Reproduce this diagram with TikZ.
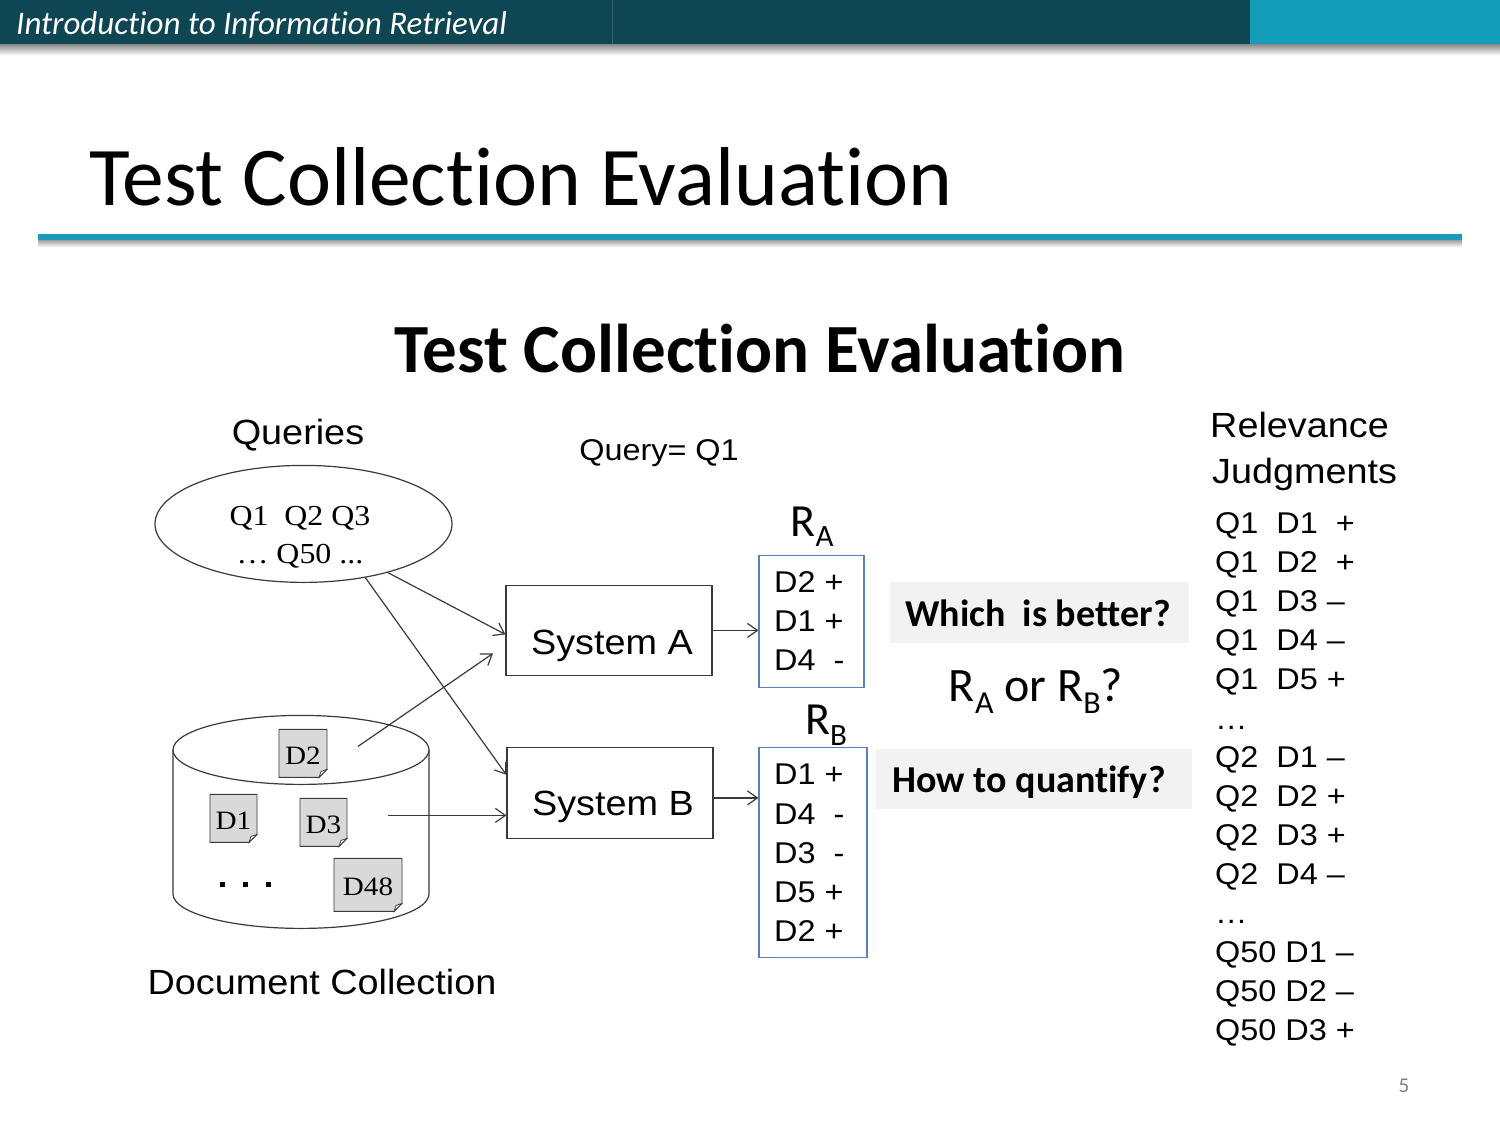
\documentclass[tikz,border=0pt]{standalone}
\usepackage{fontspec}
\setmainfont{Liberation Sans}
\newfontfamily\arialw[FakeStretch=1.08]{Liberation Sans}
\newfontfamily\timesw[FakeStretch=1.1]{Liberation Serif}
\newfontfamily\calib[Ligatures=NoCommon]{Carlito}
\usetikzlibrary{arrows.meta,shapes.geometric,calc}
\definecolor{hdark}{HTML}{0E4654}
\definecolor{hlight}{HTML}{139BBA}
\definecolor{rulec}{HTML}{1B9BB8}
\definecolor{boxblue}{HTML}{5B82B8}
\definecolor{lgrey}{HTML}{F2F2F2}
\definecolor{docgrey}{HTML}{D9D9D9}
\definecolor{linec}{HTML}{3A3A3A}
\newcommand{\mydoc}[6]{%
  \filldraw[fill=docgrey, draw=linec, line width=0.9pt]
    (#2,#3) -- (#4,#3) -- (#4,#5-8) -- (#4-8,#5) -- (#2,#5) -- cycle;
  \filldraw[fill=white!70!docgrey, draw=linec, line width=0.7pt]
    (#4-8,#5) -- (#4,#5-8) -- (#4-6,#5-6) -- cycle;
  \node[doclabel] (#1) at ({(#2+#4)/2},{(#3+#5)/2+2}) {#6};
}
\begin{document}
\begin{tikzpicture}[x=1pt,y=-1pt,
  lbl/.style={inner sep=0pt, anchor=base, font=\arialw\fontsize{35}{40}\selectfont},
  row/.style={inner sep=0pt, anchor=base west, font=\arialw\fontsize{30}{34}\selectfont},
  sysbox/.style={draw=linec, line width=1.2pt, minimum width=206pt, minimum height=90pt, inner sep=0pt},
  resbox/.style={draw=boxblue, line width=1.1pt, inner sep=0pt},
  qbox/.style={fill=lgrey, inner sep=0pt},
  boldtxt/.style={inner sep=0pt, anchor=base, font=\calib\bfseries\fontsize{38}{40}\selectfont},
  rlbl/.style={inner sep=0pt, anchor=base, font=\calib\fontsize{46}{48}\selectfont},
  doclabel/.style={inner sep=0pt, font=\timesw\fontsize{26.5}{28}\selectfont},
  qtxt/.style={inner sep=0pt, anchor=base, font=\timesw\fontsize{29}{32}\selectfont},
  arr/.style={draw=linec, line width=1.2pt, -{Straight Barb[length=10pt,width=14pt]}},
  cyl/.style={draw=linec, line width=1.2pt}
]
% background / bounding box
\fill[white] (0,0) rectangle (1500,1125);

% header bar
\shade[top color=black!45, bottom color=white] (0,44) rectangle (1500,55);
\fill[hdark] (0,0) rectangle (1250,44);
\fill[hlight] (1250,0) rectangle (1500,44);
\draw[hdark!85!white, line width=0.8pt] (612,0) -- (612,44);
\node[anchor=base west, inner sep=0pt, text=white, font=\calib\itshape\fontsize{33}{36}\selectfont] (hdr) at (16,34) {Introduction to Information Retrieval};

% slide title and rule
\node[anchor=base west, inner sep=0pt, font=\calib\fontsize{83.5}{90}\selectfont] (title) at (89,205) {Test Collection Evaluation};
\shade[top color=black!35, bottom color=white] (38,240) rectangle (1462,247);
\fill[rulec] (38,234) rectangle (1462,240);

% diagram title
\node[anchor=base, inner sep=0pt, font=\calib\bfseries\fontsize{69}{72}\selectfont] (sub) at (760,372) {Test Collection Evaluation};

% queries
\node[lbl] (queries) at (298,444) {Queries};
\node[ellipse, draw=linec, line width=1.2pt, minimum width=297pt, minimum height=117pt, inner sep=0pt] (qs) at (303.5,523.5) {};
\node[qtxt] (ql1) at (300,525) {Q1\ \ Q2 Q3};
\node[qtxt] (ql2) at (300,563) {… Q50 ...};

\node[row, anchor=base] (qeq) at (659,460) {Query= Q1};

% document collection cylinder
\draw[cyl, fill=white] (173,749.5) -- (173,893.5) arc[start angle=180, end angle=360, x radius=128pt, y radius=34.5pt] -- (429,749.5);
\draw[cyl, fill=white] (301,749.5) ellipse [x radius=128pt, y radius=34.5pt];
\mydoc{d2}{279}{729}{327}{777}{D2}
\mydoc{d1}{210}{794}{257}{842}{D1}
\mydoc{d3}{300}{798}{347}{846}{D3}
\mydoc{d48}{334}{858}{402}{911}{D48}
\fill[black] (219.5,881.5) rectangle (224.5,886.5);
\fill[black] (242.5,881.5) rectangle (247.5,886.5);
\fill[black] (265.5,881.5) rectangle (270.5,886.5);
\node[lbl] (doccol) at (322,994) {Document Collection};

% systems
\node[sysbox] (sa) at (609,630) {};
\node[lbl] (satxt) at (612,654) {System A};
\node[sysbox, minimum height=91pt] (sb) at (610,792.5) {};
\node[lbl] (sbtxt) at (613,815) {System B};

% result lists
\node[rlbl] (ralbl) at (812,536) {R\raisebox{-10pt}{\fontsize{31}{32}\selectfont A}};
\node[resbox, minimum width=105pt, minimum height=132pt] (ra) at (811.5,621) {};
\node[row] (ra1) at (774,592) {D2 +};
\node[row] (ra2) at (774,631) {D1 +};
\node[row] (ra3) at (774,670) {D4\ \ -};

\node[rlbl] (rblbl) at (826,734) {R\raisebox{-11pt}{\fontsize{31}{32}\selectfont B}};
\node[resbox, minimum width=108pt, minimum height=210pt] (rb) at (813,852) {};
\node[row] (rb1) at (774,784) {D1 +};
\node[row] (rb2) at (774,824) {D4\ \ -};
\node[row] (rb3) at (774,863) {D3\ \ -};
\node[row] (rb4) at (774,902) {D5 +};
\node[row] (rb5) at (774,941) {D2 +};

% questions
\node[qbox, minimum width=299pt, minimum height=61pt] (wbbox) at (1039.5,612.5) {};
\node[boldtxt] (wb) at (1038,626) {Which\ \ is better?};
\node[inner sep=0pt, anchor=base, font=\calib\fontsize{48}{50}\selectfont] (raorb) at (1036,701) {R\raisebox{-12pt}{\fontsize{32}{34}\selectfont A} or R\raisebox{-12pt}{\fontsize{32}{34}\selectfont B}?};
\node[qbox, minimum width=316pt, minimum height=60pt] (hqbox) at (1034,779) {};
\node[boldtxt] (hq) at (1029,792) {How to quantify?};

% relevance judgments
\node[lbl, anchor=base west] (rel1) at (1210,437) {Relevance};
\node[lbl, anchor=base west] (rel2) at (1212,483) {Judgments};
\node[row] (j1) at (1215,533) {Q1\ \ D1\ \ +};
\node[row] (j2) at (1215,572) {Q1\ \ D2\ \ +};
\node[row] (j3) at (1215,611) {Q1\ \ D3 –};
\node[row] (j4) at (1215,650) {Q1\ \ D4 –};
\node[row] (j5) at (1215,689) {Q1\ \ D5 +};
\node[row] (j6) at (1215,729) {…};
\node[row] (j7) at (1215,767) {Q2\ \ D1 –};
\node[row] (j8) at (1215,806) {Q2\ \ D2 +};
\node[row] (j9) at (1215,845) {Q2\ \ D3 +};
\node[row] (j10) at (1215,884) {Q2\ \ D4 –};
\node[row] (j11) at (1215,923) {…};
\node[row] (j12) at (1215,962) {Q50 D1 –};
\node[row] (j13) at (1215,1001) {Q50 D2 –};
\node[row] (j14) at (1215,1040) {Q50 D3 +};

% page number
\node[anchor=base, inner sep=0pt, text=gray, font=\calib\fontsize{21}{24}\selectfont] (pg) at (1404,1092) {5};

% connectors
\coordinate (d2src) at (358,746);
\coordinate (d2tip) at (493,653);
\coordinate (cylsrc) at (388,815);
\draw[arr] (qs.-30.4) -- ([yshift=-4pt]sa.west);
\draw[arr] (qs.-41) -- ([yshift=-28pt]sb.north west);
\draw[arr] (d2src) -- (d2tip);
\draw[arr] (cylsrc) -- (cylsrc -| sb.west);
\draw[arr] (sa.east) -- (sa.east -| ra.west);
\draw[arr] ([yshift=-5pt]sb.east) -- ([yshift=-5pt]sb.east -| rb.west);
\end{tikzpicture}
\end{document}
